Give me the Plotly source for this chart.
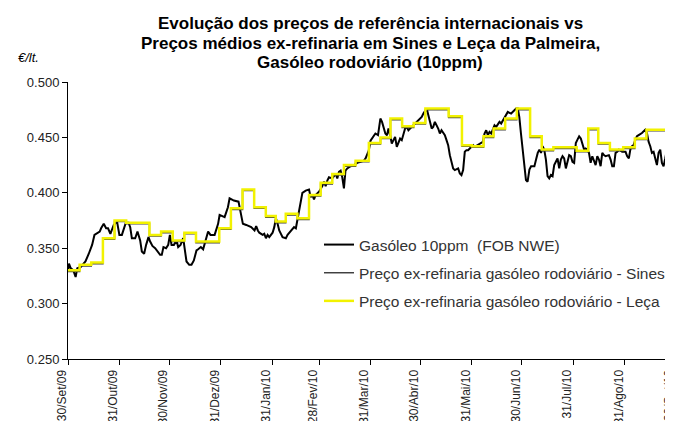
import pandas as pd
import plotly.graph_objects as go

start = pd.Timestamp("2009-09-30")

# Gasóleo 10ppm (FOB NWE) — days after 30/Set/09 and price (€/lt.)
fob_day = [0, 0.6, 1.6, 3.2, 4.6, 5.6, 7.6, 10.5, 12.5, 14.5, 15.9, 19.1, 19.9, 21.5, 22.9, 24.1,
           25.5, 27.5, 29.5, 30.9, 32.4, 33.8, 34.8, 36.4, 37.4, 38.4, 40.4, 41.8, 43.4, 44.4,
           45.8, 47.0, 48.4, 49.4, 50.8, 52.4, 53.4, 55.4, 56.4, 57.4, 59.0, 60.3, 61.3, 62.3,
           63.7, 65.3, 66.3, 67.7, 69.3, 70.3, 71.3, 72.9, 74.3, 75.7, 77.3, 78.3, 79.9, 81.3,
           83.3, 84.3, 85.7, 88.2, 90.3, 91.2, 94.2, 96.2, 97.2, 99.8, 102.6, 104.2, 105.2, 107.2,
           110.2, 112.2, 113.2, 114.2, 115.1, 117.1, 118.1, 119.1, 120.1, 121.1, 123.1, 124.1,
           125.1, 126.1, 127.1, 129.1, 131.1, 132.1, 134.1, 136.0, 137.1, 138.1, 139.1, 140.1,
           141.0, 143.0, 145.0, 146.0, 147.0, 148.0, 149.0, 151.0, 153.0, 154.0, 155.0, 156.0,
           157.0, 159.0, 161.0, 162.0, 163.0, 164.0, 165.0, 166.0, 166.9, 168.0, 170.0, 172.0,
           174.0, 176.0, 178.0, 179.0, 180.9, 182.0,
           183.9, 184.9, 186.5, 187.9, 188.9, 189.9, 190.9, 191.9, 192.8, 193.8, 194.8, 195.8,
           196.8, 197.8, 198.8, 199.8, 200.8, 201.8, 202.8, 203.8, 204.8, 205.8, 206.8, 208.8,
           210.8, 212.8, 213.8, 214.8, 215.8, 216.8, 217.8, 218.8, 219.7, 220.7, 222.7, 223.7,
           224.7, 226.7, 227.7, 228.7, 229.7, 230.7, 231.7, 232.7, 234.7, 235.7, 236.7, 237.7,
           238.7, 239.7, 240.7, 242.7, 243.7, 244.7, 246.6, 248.6, 249.6, 250.6, 251.6, 252.6,
           253.6, 254.6, 255.6, 256.6, 257.6, 258.6, 259.6, 260.6, 261.6, 262.6, 263.6, 264.6,
           266.6, 267.6, 269.6, 270.6, 271.5, 272.5, 273.5, 274.5, 275.5, 276.5,
           277.6, 278.6, 280.6, 281.6, 282.6, 283.6, 284.6, 285.5, 286.5, 287.5, 288.5, 289.5,
           290.5, 291.5, 292.5, 293.5, 294.5, 295.5, 296.5, 297.5, 298.5, 299.5, 300.5, 301.5,
           302.5, 303.5, 304.5, 305.5, 306.5, 307.5, 308.5, 309.5, 310.5, 311.4, 312.4, 313.4,
           314.4, 315.4, 316.4, 317.4, 318.4, 319.4, 320.4, 321.4, 322.4, 323.4, 325.4, 326.4,
           327.4, 328.4, 329.4, 330.4, 331.4, 333.4, 335.4, 336.4, 337.4, 338.3, 339.3, 340.3,
           341.3, 342.3, 343.3, 345.3, 347.3, 348.3, 349.3, 350.3, 351.3, 352.3, 353.3, 354.3,
           355.3, 356.3, 357.3, 358.3, 359.3, 360.3, 361.3, 362.3, 363.3, 364.3, 365.0]
fob_val = [0.329, 0.336, 0.332, 0.330, 0.324, 0.332, 0.333, 0.338, 0.345, 0.353, 0.362, 0.365,
           0.368, 0.372, 0.368, 0.368, 0.363, 0.371, 0.374, 0.362, 0.362, 0.369, 0.373, 0.373,
           0.369, 0.359, 0.359, 0.365, 0.357, 0.347, 0.345, 0.353, 0.360, 0.356, 0.352, 0.350,
           0.348, 0.344, 0.344, 0.351, 0.350, 0.353, 0.362, 0.353, 0.353, 0.357, 0.351, 0.353,
           0.359, 0.348, 0.338, 0.335, 0.335, 0.339, 0.348, 0.349, 0.351, 0.349, 0.359, 0.365,
           0.362, 0.362, 0.372, 0.380, 0.378, 0.387, 0.395, 0.393, 0.392, 0.380, 0.372, 0.371,
           0.369, 0.366, 0.370, 0.366, 0.364, 0.362, 0.363, 0.359, 0.362, 0.360, 0.364, 0.369,
           0.377, 0.372, 0.366, 0.360, 0.359, 0.362, 0.366, 0.369, 0.368, 0.377, 0.384, 0.391,
           0.400, 0.402, 0.403, 0.396, 0.398, 0.394, 0.398, 0.401, 0.406, 0.410, 0.406, 0.411,
           0.414, 0.413, 0.417, 0.413, 0.419, 0.420, 0.414, 0.404, 0.420, 0.422, 0.424, 0.425,
           0.427, 0.428, 0.429, 0.431, 0.438, 0.447,
           0.452, 0.4535, 0.452, 0.467, 0.464, 0.458, 0.4535, 0.452, 0.458, 0.452, 0.4445, 0.4475,
           0.4505, 0.4415, 0.4445, 0.449, 0.4475, 0.452, 0.458, 0.4595, 0.4565, 0.458, 0.4595, 0.4625,
           0.4655, 0.4685, 0.4715, 0.4745, 0.476, 0.470, 0.4625, 0.458, 0.4595, 0.464, 0.458, 0.4535,
           0.4565, 0.452, 0.4475, 0.443, 0.434, 0.428, 0.422, 0.4205, 0.422, 0.4175, 0.416, 0.4205,
           0.437, 0.4385, 0.4385, 0.4415, 0.443, 0.4415, 0.443, 0.4445, 0.446, 0.4535, 0.4565, 0.452,
           0.455, 0.4535, 0.458, 0.461, 0.4595, 0.4625, 0.464, 0.4625, 0.4655, 0.4685, 0.4715, 0.473,
           0.4715, 0.473, 0.476, 0.476, 0.4685, 0.4535, 0.4385, 0.4235, 0.4115, 0.410,
           0.421, 0.424, 0.424, 0.430, 0.436, 0.439, 0.436, 0.442, 0.439, 0.430, 0.415, 0.413,
           0.416, 0.415, 0.425, 0.428, 0.431, 0.422, 0.430, 0.433, 0.431, 0.422, 0.428, 0.434,
           0.433, 0.428, 0.427, 0.445, 0.448, 0.451, 0.449, 0.443, 0.439, 0.440, 0.439, 0.436,
           0.427, 0.433, 0.428, 0.425, 0.433, 0.430, 0.424, 0.436, 0.434, 0.433, 0.434, 0.430,
           0.424, 0.424, 0.436, 0.437, 0.439, 0.437, 0.437, 0.433, 0.431, 0.439, 0.442, 0.443,
           0.448, 0.451, 0.452, 0.454, 0.457, 0.454, 0.446, 0.442, 0.436, 0.437, 0.431, 0.425,
           0.436, 0.439, 0.427, 0.424, 0.431, 0.439, 0.431, 0.425, 0.430, 0.445, 0.448]

# Weekly ex-refinery prices: day the price starts (after 30/Set/09) and value
step_day = [0, 7, 14, 21, 28, 35, 49, 56, 63, 70,
            77, 91, 98, 105, 112, 119, 125, 131, 138, 145,
            152, 159, 166, 173, 181, 188, 194, 201, 208, 215,
            229, 237, 243, 250, 256, 263, 270, 278, 285, 292,
            306, 313, 319, 326, 334, 341, 348, 362, 365]
leca_val = [0.330, 0.335, 0.337, 0.359, 0.375, 0.373, 0.362, 0.365, 0.357, 0.364,
            0.356, 0.368, 0.386, 0.403, 0.387, 0.379, 0.374, 0.381, 0.377, 0.398,
            0.409, 0.417, 0.425, 0.429, 0.445, 0.450, 0.467, 0.460, 0.463, 0.476,
            0.469, 0.443, 0.442, 0.451, 0.458, 0.467, 0.476, 0.451, 0.439, 0.441,
            0.438, 0.458, 0.445, 0.439, 0.441, 0.449, 0.457, 0.447, 0.447]
sines_val = [0.329, 0.334, 0.336, 0.358, 0.374, 0.372, 0.361, 0.364, 0.356, 0.363,
             0.355, 0.367, 0.385, 0.402, 0.386, 0.378, 0.373, 0.380, 0.376, 0.397,
             0.408, 0.416, 0.424, 0.428, 0.444, 0.449, 0.466, 0.459, 0.462, 0.475,
             0.468, 0.442, 0.441, 0.450, 0.457, 0.466, 0.475, 0.450, 0.438, 0.440,
             0.437, 0.457, 0.444, 0.438, 0.440, 0.448, 0.456, 0.446, 0.446]

tick_dates = ["2009-09-30", "2009-10-31", "2009-11-30", "2009-12-31", "2010-01-31", "2010-02-28",
              "2010-03-31", "2010-04-30", "2010-05-31", "2010-06-30", "2010-07-31", "2010-08-31",
              "2010-09-30"]
tick_text = ["30/Set/09", "31/Out/09", "30/Nov/09", "31/Dez/09", "31/Jan/10", "28/Fev/10",
             "31/Mar/10", "30/Abr/10", "31/Mai/10", "30/Jun/10", "31/Jul/10", "31/Ago/10",
             "30/Set/10"]

names = ["Gasóleo 10ppm  (FOB NWE)",
         "Preço ex-refinaria gasóleo rodoviário - Sines",
         "Preço ex-refinaria gasóleo rodoviário - Leça"]

title_lines = ["Evolução dos preços de referência internacionais vs",
               "Preços médios ex-refinaria em Sines e Leça da Palmeira,",
               "Gasóleo rodoviário (10ppm)"]


def to_dates(days):
    return [start + pd.Timedelta(hours=round(d * 24)) for d in days]


FONT = "Liberation Sans, Arial, sans-serif"
W, H = 673, 421
L, R, T, B = 60, 6, 74, 70
PW, PH = W - L - R, H - T - B

fig = go.Figure()
fig.add_trace(go.Scatter(x=to_dates(fob_day), y=fob_val, mode="lines", name=names[0],
                         line=dict(color="#000000", width=2), legendgroup="a"))
fig.add_trace(go.Scatter(x=to_dates(step_day), y=sines_val, mode="lines", name=names[1],
                         line=dict(color="#404040", width=1.5, shape="hv"), legendgroup="b"))
fig.add_trace(go.Scatter(x=to_dates(step_day), y=leca_val, mode="lines", name=names[2],
                         line=dict(color="#F2F200", width=2.5, shape="hv"), legendgroup="c"))

fig.update_layout(
    width=W, height=H,
    margin=dict(l=L, r=R, t=T, b=B, autoexpand=False),
    paper_bgcolor="white", plot_bgcolor="white",
    font=dict(family=FONT, color="#222222"),
    showlegend=True,
    legend=dict(x=(311 - L) / PW, xanchor="left", y=1 - (220 - T) / PH, yanchor="top",
                bgcolor="rgba(0,0,0,0)", font=dict(family=FONT, size=15.5, color="#333333"),
                traceorder="grouped", tracegroupgap=5),
    xaxis=dict(type="date", range=[start, pd.Timestamp("2010-09-30 04:00")],
               tickvals=tick_dates, ticktext=tick_text, tickangle=-90, automargin=False,
               ticklabeloverflow="allow", ticklabelshift=-6,
               ticks="outside", ticklen=5, tickcolor="#000", showline=True, linecolor="#000",
               linewidth=1, showgrid=False, zeroline=False,
               tickfont=dict(family=FONT, size=12, color="#222222")),
    yaxis=dict(range=[0.25, 0.5], dtick=0.05, tickformat=".3f", automargin=False,
               ticks="outside", ticklen=5, tickcolor="#000", showline=True, linecolor="#000",
               linewidth=1, showgrid=False, zeroline=False,
               tickfont=dict(family=FONT, size=13, color="#222222")),
)

for i, line in enumerate(title_lines):
    yc = 16 + 19 * i
    fig.add_annotation(text="<b>" + line + "</b>", xref="paper", yref="paper",
                       x=(362 - L) / PW, y=1 + (T - yc) / PH, xanchor="center", yanchor="middle",
                       showarrow=False, font=dict(family=FONT, size=17, color="#000000"))

fig.add_annotation(text="<i>€/lt.</i>", xref="paper", yref="paper",
                   x=(8 - L) / PW, y=1 + (T - 49) / PH, xanchor="left", yanchor="middle",
                   showarrow=False, font=dict(family=FONT, size=13, color="#000000"))

fig.write_html("out.html")
